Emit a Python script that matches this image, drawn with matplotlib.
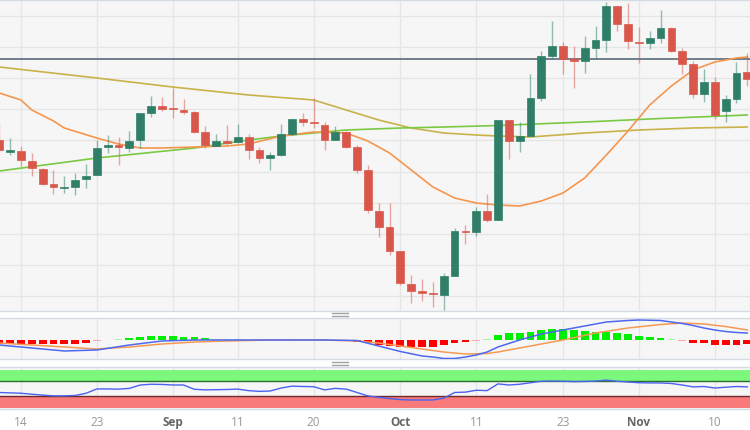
import matplotlib.pyplot as plt
import numpy as np
from matplotlib.lines import Line2D

OUTPUT_PATH = "out.png"

# one slot per trading day; slot 2 is Aug 14
TICK_POS = [2, 9, 16, 22, 29, 37, 44, 52, 59, 66]
TICK_LABELS = ["14", "23", "Sep", "11", "20", "Oct", "11", "23", "Nov", "10"]
MONTHS = {"Sep", "Oct", "Nov"}

OPENS = [180, 168, 169, 159, 151, 136, 132, 133, 141, 145, 173, 175, 172, 180, 207, 214, 212, 210,
         208, 188, 174, 179, 178, 183, 170, 162, 165, 186, 201, 198, 195, 180, 188, 173, 150, 109,
         93, 69, 36, 29, 27, 25, 44, 89, 88, 109, 100, 200, 179, 184, 222, 264, 274, 261, 259, 272,
         280, 314, 296, 278, 277, 282, 292, 269, 256, 226, 238, 209, 221, 248]
CLOSES = [170, 170, 160, 152, 136, 133, 133, 140, 144, 172, 175, 173, 179, 207, 214, 211, 211, 208,
          188, 175, 179, 177, 183, 170, 162, 165, 186, 201, 198, 197, 180, 188, 173, 150, 110, 93,
          69, 37, 29, 27, 26, 44, 89, 88, 109, 100, 200, 179, 184, 222, 264, 274, 261, 259, 272, 280,
          314, 296, 279, 277, 282, 292, 269, 256, 226, 238, 205, 221, 247, 241]
HIGHS = [196, 182, 174, 167, 152, 150, 144, 147, 156, 180, 185, 183, 189, 207, 224, 223, 232, 221,
         209, 194, 186, 195, 196, 186, 173, 168, 196, 201, 207, 222, 198, 194, 189, 175, 155, 117,
         117, 69, 45, 41, 38, 47, 92, 95, 113, 126, 200, 200, 198, 246, 269, 299, 278, 274, 284, 294,
         318, 314, 317, 293, 289, 310, 293, 272, 259, 251, 243, 225, 258, 267]
LOWS = [168, 165, 154, 144, 135, 126, 127, 125, 132, 145, 167, 155, 168, 172, 203, 209, 202, 206,
        187, 172, 174, 175, 177, 161, 157, 150, 164, 185, 194, 192, 170, 180, 172, 147, 107, 83,
        65, 35, 17, 19, 13, 10, 44, 76, 84, 98, 100, 161, 168, 184, 219, 261, 246, 232, 247, 261,
        268, 289, 271, 257, 271, 277, 268, 246, 222, 218, 201, 198, 217, 234]

SMA20_IDX = [0, 2, 3, 5, 6, 9, 11, 13, 15, 18, 21, 23, 26, 29, 32, 34, 36, 38, 40, 42, 44, 46,
             48, 50, 52, 54, 56, 58, 60, 62, 64, 66, 68, 69]
SMA20 = [227, 220, 210, 199, 192, 182, 176, 172, 172, 173, 174, 176, 184, 188, 187, 179, 167, 150,
         133, 122, 117, 115, 114, 119, 127, 142, 165, 189, 215, 234, 250, 258, 262, 263]
SMA100_IDX = [0, 9, 18, 23, 26, 32, 37, 41, 46, 54, 61, 69]
SMA100 = [149, 162, 172, 180, 184, 190, 192, 193, 194.5, 198, 201.5, 205]
SMA200_IDX = [0, 9, 16, 23, 29, 32, 35, 38, 41, 44, 46, 49, 54, 59, 64, 69]
SMA200 = [253, 242, 233, 225, 220, 210, 200, 192, 187, 185, 184, 183, 187, 190, 192, 193]
RESISTANCE = 261

MACD_IDX = [0, 3, 6, 9, 12, 15, 18, 24, 30, 33, 35, 37, 39, 40, 41, 42, 43, 44, 45, 46, 48, 50,
            51, 52, 53, 55, 56, 58, 59, 61, 62, 63, 64, 65, 66, 67, 68, 69]
MACD = [-5, -8, -11, -10, -5, -1, 0, 0, 0, -0.5, -6, -11.5, -16, -17, -18.5, -18.5, -17, -15, -12,
        -7, 0, 6, 8, 10, 12, 16, 18, 19.5, 20, 19.5, 18, 16.5, 14.5, 12, 10, 8.5, 7.5, 7]
SIGNAL_IDX = [0, 3, 6, 9, 12, 15, 18, 21, 25, 30, 33, 35, 37, 39, 41, 43, 45, 46, 49, 52, 55, 58,
              61, 63, 65, 67, 69]
SIGNAL = [-3, -5, -7, -9, -7, -4, -2, -1, 0, 0, -1, -3, -6, -9, -12, -14, -13.5, -12, -6, 0, 7,
          12, 15.5, 17, 16, 13.5, 10]
HIST = [-4, -4.3, -4.3, -4.3, -4.3, -4.3, -4, -3.5, -2.5, -1.0, 0.5, 1.0, 1.7, 2.7, 4.0, 4.3, 4.3,
        3.3, 2.7, 1.7, 1.0, 0.8, 0.6, 0.5, -0.5, -0.4, 0.5, 1.0, 1.2, 1.0, 0.6, -0.5, -1.0, -1.5,
        -3, -4.5, -6, -7, -7.3, -7.3, -6.7, -4.5, -2.7, -1.7, -0.6, 0.6, 5, 6.7, 7.5, 8.3, 10, 11.5,
        11, 10, 9.5, 8.5, 8.3, 7.3, 6, 4, 2.7, 1.7, 0.7, -0.5, -2.7, -3.3, -5, -5, -4.7, -4.3]
RSI = [40, 39, 38, 35.5, 33, 31, 31, 32, 38, 49.5, 49.5, 49, 51, 60, 62, 61.5, 60, 60, 48.5, 47,
       47.5, 48, 49, 45, 43, 44, 52, 57, 56, 55.5, 47, 51, 49, 40, 31, 27, 24, 21, 20, 20, 20, 25,
       40, 41, 46, 45, 63, 60, 62, 66, 70, 70.5, 70, 69, 69.5, 70.5, 73, 70, 68, 66, 65.5, 65.5,
       64, 60, 55, 56, 52, 54, 56, 55]

BG = "#f6f6f6"
GRID = "#e5e5e5"
BORDER = "#d5dbe3"
UP = "#2f7f68"
DOWN = "#d9574a"
X_RANGE = (0.065, 69.25)


def style_panel(ax):
    ax.set_facecolor(BG)
    ax.set_xlim(*X_RANGE)
    ax.set_xticks(TICK_POS)
    ax.grid(axis="x", color=GRID, lw=0.9)
    ax.tick_params(length=0, labelleft=False, labelbottom=False)
    for side in ("left", "right"):
        ax.spines[side].set_visible(False)
    for side in ("top", "bottom"):
        ax.spines[side].set_color(BORDER)
        ax.spines[side].set_linewidth(1)
    ax.set_axisbelow(True)


def draw_candles(ax):
    x = np.arange(len(OPENS))
    o = np.array(OPENS, dtype=float)
    c = np.array(CLOSES, dtype=float)
    colors = [UP if cc >= oo else DOWN for oo, cc in zip(o, c)]
    ax.vlines(x, LOWS, HIGHS, colors=colors, lw=1, alpha=0.5, zorder=3)
    bottom = np.minimum(o, c)
    height = np.maximum(np.abs(c - o), 1.5)
    ax.bar(x, height, bottom=bottom, width=0.72, color=colors, edgecolor=colors, lw=0.5, zorder=4)


def draw_main(ax):
    style_panel(ax)
    ax.set_ylim(9, 320)
    ax.set_yticks(np.linspace(24, 304, 10))
    ax.grid(axis="y", color=GRID, lw=0.9)
    ax.axhline(RESISTANCE, color="#4e5d6e", lw=1.1, zorder=2)
    ax.plot(SMA200_IDX, SMA200, color="#c8b24a", lw=1.2, zorder=2)
    ax.plot(SMA100_IDX, SMA100, color="#79c943", lw=1.2, zorder=2)
    ax.plot(SMA20_IDX, SMA20, color="#f5964f", lw=1.2, zorder=2)
    draw_candles(ax)


def draw_macd(ax):
    style_panel(ax)
    ax.set_ylim(-19, 22)
    colors = []
    for v in HIST:
        if v >= 0:
            colors.append("#00ee00" if v > 1.3 else "#a8f5a8")
        else:
            colors.append("#ff0000" if v < -1.3 else "#f7a8a8")
    ax.bar(np.arange(len(HIST)), HIST, width=0.72, color=colors, zorder=2)
    ax.plot(SIGNAL_IDX, SIGNAL, color="#f59a55", lw=1.1, zorder=3)
    ax.plot(MACD_IDX, MACD, color="#4f68f0", lw=1.1, zorder=3)


def draw_rsi(ax):
    style_panel(ax)
    ax.set_ylim(-4, 108)
    ax.axhspan(70, 100, color="#7cf87c", lw=0, zorder=1)
    ax.axhspan(0, 30, color="#f87a7a", lw=0, zorder=1)
    ax.axhline(70, color="#2f6d2f", lw=1, zorder=2)
    ax.axhline(30, color="#6e2b2b", lw=1, zorder=2)
    ax.plot(np.arange(len(RSI)), RSI, color="#4a62f0", lw=1, zorder=3)
    ax.tick_params(labelbottom=True, pad=5)
    ax.set_xticklabels(TICK_LABELS)
    for lbl in ax.get_xticklabels():
        month = lbl.get_text() in MONTHS
        lbl.set_fontsize(8.5)
        lbl.set_fontfamily("Open Sans")
        lbl.set_color("#666666" if month else "#999999")
        lbl.set_fontweight("bold" if month else "normal")


def draw_handle(fig, y_px):
    w, h = fig.get_size_inches() * fig.dpi
    for dy in (-1.3, 1.3):
        y = 1 - (y_px + dy) / h
        fig.add_artist(Line2D([332 / w, 348 / w], [y, y], color="#a3a3a3", lw=1))


def main():
    fig = plt.figure(figsize=(7.5, 4.3), dpi=100)
    fig.patch.set_facecolor("white")
    ax_main = fig.add_axes([0, 1 - 311 / 430, 1, 311 / 430])
    ax_macd = fig.add_axes([0, 1 - 359 / 430, 1, 41 / 430])
    ax_rsi = fig.add_axes([0, 1 - 409 / 430, 1, 42 / 430])
    draw_main(ax_main)
    draw_macd(ax_macd)
    draw_rsi(ax_rsi)
    draw_handle(fig, 314.5)
    draw_handle(fig, 363.5)
    fig.savefig(OUTPUT_PATH, dpi=100, facecolor="white")


if __name__ == "__main__":
    main()
